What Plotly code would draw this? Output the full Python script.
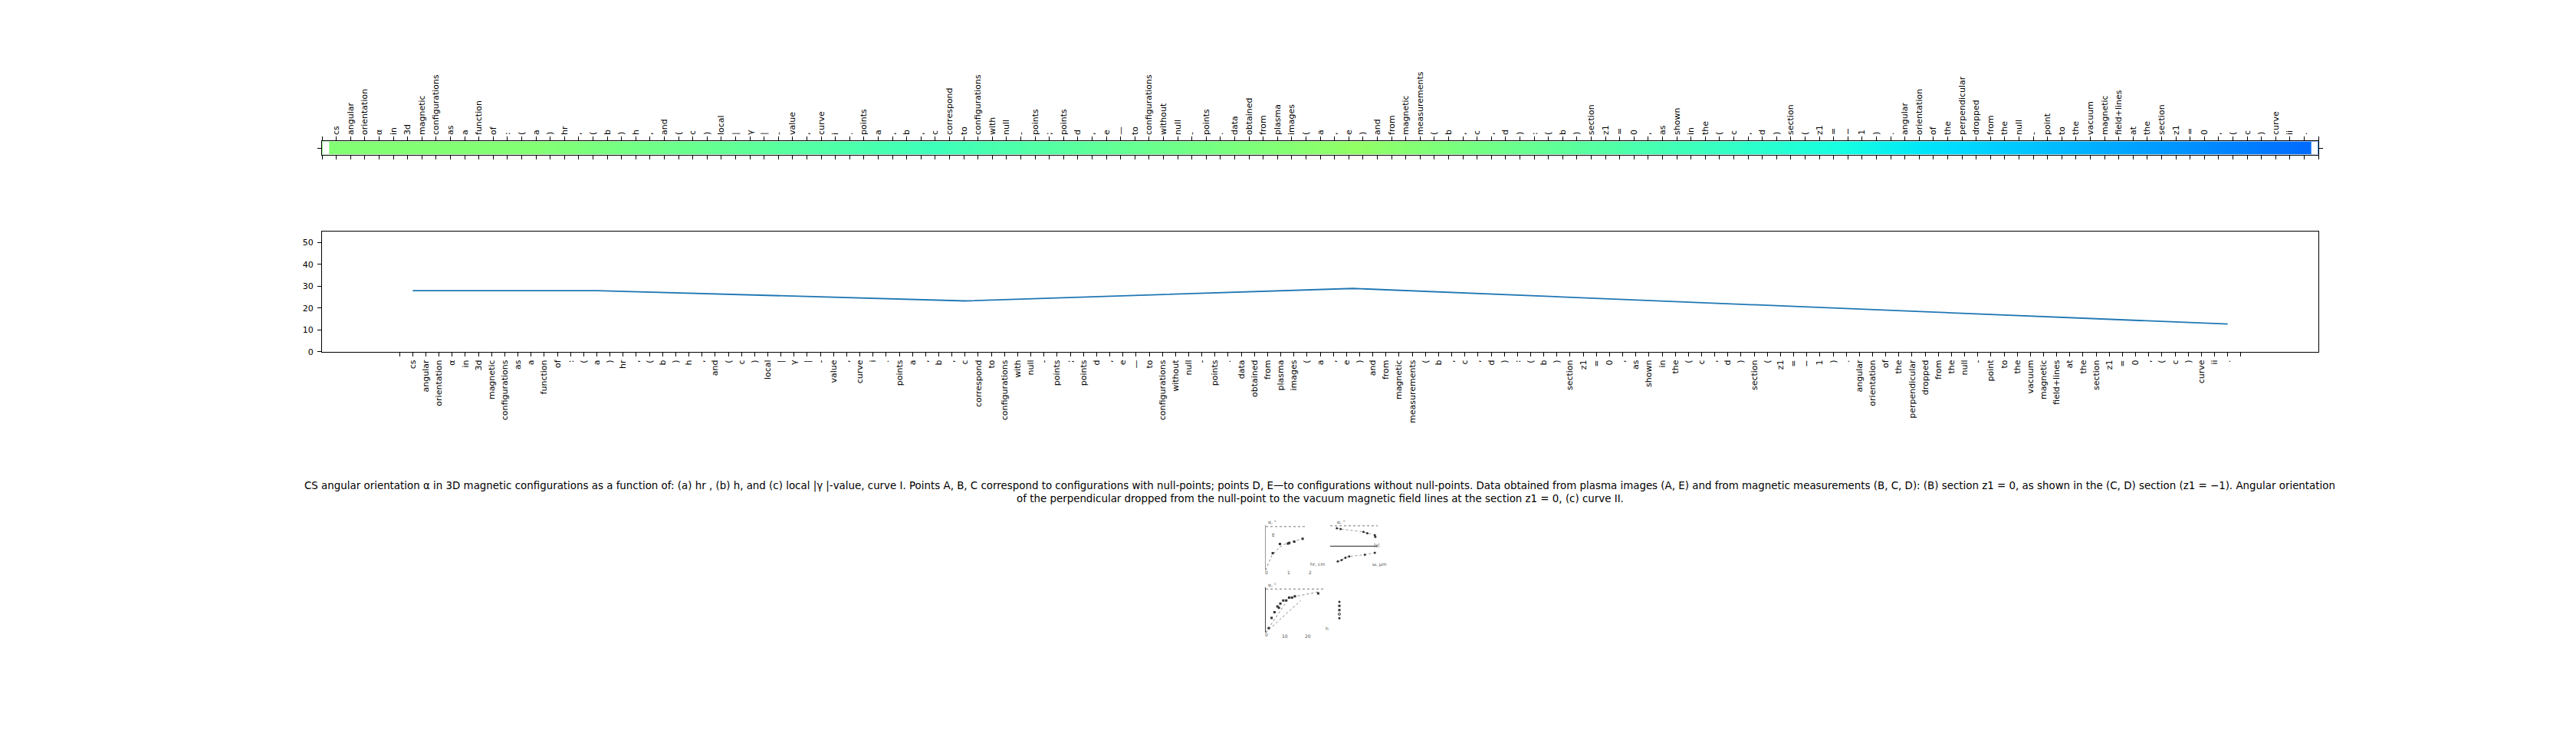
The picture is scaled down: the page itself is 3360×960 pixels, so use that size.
import numpy as np
import plotly.graph_objects as go

# ---------------- data ----------------
words = ["cs", "angular", "orientation", "α", "in", "3d", "magnetic", "configurations", "as", "a",
         "function", "of", ":", "(", "a", ")", "hr", ",", "(", "b",
         ")", "h", ",", "and", "(", "c", ")", "local", "|", "γ",
         "|", "-", "value", ",", "curve", "i", ".", "points", "a", ",",
         "b", ",", "c", "correspond", "to", "configurations", "with", "null", "-", "points",
         ";", "points", "d", ",", "e", "—", "to", "configurations", "without", "null",
         "-", "points", ".", "data", "obtained", "from", "plasma", "images", "(", "a",
         ",", "e", ")", "and", "from", "magnetic", "measurements", "(", "b", ",",
         "c", ",", "d", ")", ":", "(", "b", ")", "section", "z1",
         "=", "0", ",", "as", "shown", "in", "the", "(", "c", ",",
         "d", ")", "section", "(", "z1", "=", "−", "1", ")", ".",
         "angular", "orientation", "of", "the", "perpendicular", "dropped", "from", "the", "null", "-",
         "point", "to", "the", "vacuum", "magnetic", "field+lines", "at", "the", "section", "z1",
         "=", "0", ",", "(", "c", ")", "curve", "ii", "."]
tick_labels = [""] + words + [""]
tick_positions = list(range(-1, len(words) + 1))

line_x = [0, 14, 42, 71.5, 138]          # word index of each data point
line_y = [28.0, 28.0, 23.3, 29.0, 12.7]  # alpha, deg
y_ticks = [0, 10, 20, 30, 40, 50]

caption_lines = [
    "CS angular orientation α in 3D magnetic configurations as a function of: (a) hr , (b) h, and (c) local |γ |-value, "
    "curve I. Points A, B, C correspond to configurations with null-points; points D, E—to configurations without "
    "null-points. Data obtained from plasma images (A, E) and from magnetic measurements (B, C, D): (B) section z1 = 0, "
    "as shown in the (C, D) section (z1 = −1). Angular orientation",
    "of the perpendicular dropped from the null-point to the vacuum magnetic field lines at the section z1 = 0, (c) curve II.",
]

# thumbnail figure data
a_x = [0.35, 0.71, 1.11, 1.18, 1.43, 1.85]
a_y = [11.7, 18.0, 18.3, 18.7, 19.6, 21.6]
a_fit_x = [0.0, 0.3, 0.7, 1.2, 1.85]
a_fit_y = [0.0, 10.0, 16.0, 19.5, 21.5]
b_up_x = [0.14, 0.22, 0.70, 0.78, 0.94, 0.95]
b_up_y = [26.4, 25.3, 21.0, 19.2, 16.3, 13.7]
b_lo_x = [0.16, 0.24, 0.32, 0.40, 0.73, 0.94]
b_lo_y = [-22.4, -20.6, -17.0, -15.2, -12.6, -9.8]
c_x = [0.1, 0.2, 0.3, 0.4, 0.45, 0.5, 0.6, 0.7, 0.8, 0.9, 1.0, 1.8]
c_y = [3, 10, 14, 18, 17, 20, 22, 22, 24, 24, 25, 27]
c_l1_x = [0.0, 0.8, 1.8]
c_l1_y = [0.0, 24.0, 28.0]
c_l2_x = [0.0, 1.2]
c_l2_y = [0.0, 22.0]
limit_val = 30
legend_rows = [5, 4, 3, 2, 1]
legend_syms = ["circle", "square", "square", "circle-open", "diamond"]

# ---------------- style helpers ----------------
def mpl_jet():
    red = [(0, 0), (0.35, 0), (0.66, 1), (0.89, 1), (1, 0.5)]
    green = [(0, 0), (0.125, 0), (0.375, 1), (0.64, 1), (0.91, 0), (1, 0)]
    blue = [(0, 0.5), (0.11, 1), (0.34, 1), (0.65, 0), (1, 0)]
    stops = sorted(set(p for p, _ in red + green + blue))
    out = []
    for s in stops:
        r = np.interp(s, [p for p, _ in red], [v for _, v in red])
        g = np.interp(s, [p for p, _ in green], [v for _, v in green])
        b = np.interp(s, [p for p, _ in blue], [v for _, v in blue])
        out.append([s, f"rgb({int(round(r*255))},{int(round(g*255))},{int(round(b*255))})"])
    return out

W, H = 3360, 960
def px(x):
    return x / W
def py(y):
    return 1 - y / H

FONT = "DejaVu Sans"
fig = go.Figure()

# colour strip
fig.add_trace(go.Heatmap(x=line_x, y=[0], z=[line_y], zsmooth="best", colorscale=mpl_jet(),
                         zmin=0, zmax=55, showscale=False, xaxis="x2", yaxis="y2", hoverinfo="skip"))
# line
fig.add_trace(go.Scatter(x=line_x, y=line_y, mode="lines", line=dict(color="#1f77b4", width=1.8),
                         xaxis="x", yaxis="y", showlegend=False))

# thumbnail traces
fig.add_trace(go.Scatter(x=a_fit_x, y=a_fit_y, mode="lines", line=dict(color="#888", width=1, dash="dot"),
                         xaxis="x3", yaxis="y3", showlegend=False))
fig.add_trace(go.Scatter(x=a_x, y=a_y, mode="markers", marker=dict(color="#333", size=3, symbol="square"),
                         xaxis="x3", yaxis="y3", showlegend=False))
fig.add_trace(go.Scatter(x=[0, 2], y=[limit_val, limit_val], mode="lines", line=dict(color="#777", width=1, dash="dot"),
                         xaxis="x3", yaxis="y3", showlegend=False))
fig.add_trace(go.Scatter(x=b_up_x, y=b_up_y, mode="lines+markers", line=dict(color="#999", width=1, dash="dot"),
                         marker=dict(color="#333", size=3), xaxis="x4", yaxis="y4", showlegend=False))
fig.add_trace(go.Scatter(x=b_lo_x, y=b_lo_y, mode="lines+markers", line=dict(color="#999", width=1, dash="dot"),
                         marker=dict(color="#333", size=3), xaxis="x4", yaxis="y4", showlegend=False))
fig.add_trace(go.Scatter(x=[0, 1], y=[limit_val, limit_val], mode="lines", line=dict(color="#777", width=1, dash="dot"),
                         xaxis="x4", yaxis="y4", showlegend=False))
fig.add_trace(go.Scatter(x=[0, 1], y=[0, 0], mode="lines", line=dict(color="#222", width=1),
                         xaxis="x4", yaxis="y4", showlegend=False))
fig.add_trace(go.Scatter(x=c_l1_x, y=c_l1_y, mode="lines", line=dict(color="#888", width=1, dash="dot"),
                         xaxis="x5", yaxis="y5", showlegend=False))
fig.add_trace(go.Scatter(x=c_l2_x, y=c_l2_y, mode="lines", line=dict(color="#888", width=1, dash="dot"),
                         xaxis="x5", yaxis="y5", showlegend=False))
fig.add_trace(go.Scatter(x=c_x, y=c_y, mode="markers", marker=dict(color="#333", size=3, symbol="square"),
                         xaxis="x5", yaxis="y5", showlegend=False))
fig.add_trace(go.Scatter(x=[0, 2], y=[limit_val, limit_val], mode="lines", line=dict(color="#777", width=1, dash="dot"),
                         xaxis="x5", yaxis="y5", showlegend=False))
fig.add_trace(go.Scatter(x=[0] * len(legend_rows), y=legend_rows, mode="markers",
                         marker=dict(color="#333", size=3, symbol=legend_syms),
                         xaxis="x6", yaxis="y6", showlegend=False))

axis_common = dict(showline=True, linecolor="black", linewidth=1.3, showgrid=False, zeroline=False,
                   ticks="outside", ticklen=5, tickwidth=1, tickcolor="black",
                   tickfont=dict(family=FONT, size=11, color="black"))

thumb_x = dict(showgrid=False, zeroline=False, showticklabels=False, showline=False, ticks="")

fig.update_layout(
    width=W, height=H, autosize=False,
    margin=dict(l=0, r=0, t=0, b=0),
    paper_bgcolor="white", plot_bgcolor="white",
    font=dict(family=FONT, color="black"),
    showlegend=False,
    xaxis=dict(domain=[0.125, 0.9], anchor="y", range=[-6.9, 144.9], tickmode="array",
               tickvals=tick_positions, ticktext=tick_labels, tickangle=-90, mirror=True, **axis_common),
    yaxis=dict(domain=[py(462.3), py(304.3)], anchor="x", range=[0, 55], tickmode="array",
               tickvals=y_ticks, mirror=True, ticklabelstandoff=3, **axis_common),
    xaxis2=dict(domain=[0.125, 0.9], anchor="y2", side="top", range=[-1, 139], tickmode="array",
                tickvals=tick_positions, ticktext=tick_labels, tickangle=-90, mirror="allticks", **axis_common),
    yaxis2=dict(domain=[py(203.3), py(185.7)], anchor="x2", range=[-0.5, 0.5], tickmode="array",
                tickvals=[0], ticktext=[""], mirror="allticks", **axis_common),
    xaxis3=dict(domain=[px(1651), px(1703)], anchor="y3", range=[0, 2], **thumb_x),
    yaxis3=dict(domain=[py(749), py(690)], anchor="x3", range=[0, 31], showgrid=False, zeroline=False,
                showticklabels=False, showline=True, linecolor="#999", linewidth=1),
    xaxis4=dict(domain=[px(1735), px(1797)], anchor="y4", range=[0, 1], **thumb_x),
    yaxis4=dict(domain=[py(747), py(690)], anchor="x4", range=[-33, 31], showgrid=False, zeroline=False,
                showticklabels=False, showline=False),
    xaxis5=dict(domain=[px(1651), px(1727)], anchor="y5", range=[0, 2], **thumb_x),
    yaxis5=dict(domain=[py(831), py(772)], anchor="x5", range=[0, 31], showgrid=False, zeroline=False,
                showticklabels=False, showline=True, linecolor="#444", linewidth=1),
    xaxis6=dict(domain=[px(1744), px(1756)], anchor="y6", range=[-1, 3], **thumb_x),
    yaxis6=dict(domain=[py(815), py(788)], anchor="x6", range=[0.5, 5.5], showgrid=False, zeroline=False,
                showticklabels=False, showline=False),
)

# masks for the white margins at the ends of the colour strip
for x0, x1 in [(-0.96, -0.5), (138.5, 138.96)]:
    fig.add_shape(type="rect", xref="x2", yref="y2", x0=x0, x1=x1, y0=-0.47, y1=0.47,
                  fillcolor="white", line=dict(width=0), layer="above")

# caption (two centred lines)
for text, yc in zip(caption_lines, [639, 655]):
    fig.add_annotation(text=text, xref="paper", yref="paper", x=px(1722), y=py(yc),
                       xanchor="center", yanchor="middle", showarrow=False, align="center",
                       font=dict(family=FONT, size=13.4, color="black"))

# thumbnail labels
thumb_labels = [
    ("α, °", 1652, 686), ("E", 1657, 703), ("hr, cm", 1707, 741), ("0", 1648, 752), ("1", 1677, 752), ("2", 1705, 752),
    ("α, °", 1742, 686), ("|γ|", 1790, 716), ("ω, μm", 1788, 741),
    ("α, °", 1652, 768), ("h", 1727, 826), ("0", 1648, 834), ("10", 1670, 836), ("20", 1700, 836),
]
for t, x, y in thumb_labels:
    fig.add_annotation(text=t, xref="paper", yref="paper", x=px(x), y=py(y), xanchor="left", yanchor="middle",
                       showarrow=False, font=dict(family=FONT, size=6, color="#555"))

fig.write_html("out.html", config={"displayModeBar": False},
               post_script="document.body.style.margin='0px';")
